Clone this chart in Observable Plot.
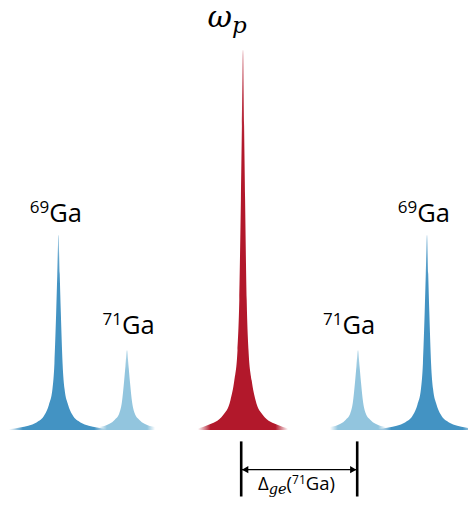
<!DOCTYPE html>
<html><head><meta charset="utf-8">
<script src="https://cdn.jsdelivr.net/npm/d3@7"></script>
<script src="https://cdn.jsdelivr.net/npm/@observablehq/plot@0.6"></script>
<style>html,body{margin:0;padding:0;background:#fff;} svg{display:block;}</style>
</head><body><div id="chart"></div>
<script>
// Peaks (detuning in arbitrary units, amplitude relative to the pump peak)
const peakNames   = ["69Ga", "71Ga", "ωp", "71Ga", "69Ga"];
const peakCenters = [-184.5, -116, 0, 115, 184];
const peakHeights = [0.513, 0.21, 1.0, 0.21, 0.513];
const peakWidths  = [1.1, 1.4, 1.0, 1.4, 1.1];
const peakSpans   = [50, 31, 45, 31, 50];
const peakColors  = ["#4393c3", "#92c5de", "#b2182b", "#92c5de", "#4393c3"];

// Line shape read from the central peak (offset from centre, relative level)
const profileOffsets = [0, 1.1, 2.1, 3.7, 5.5, 8.7, 12.5, 20, 35, 45];
const profileLevels  = [1, 0.8, 0.605, 0.342, 0.21, 0.13, 0.079, 0.039, 0.013, 0.004];

// Isotope labels
const isoLabelX    = [-187.7, -115, 105.7, 180.3];
const isoLabelY    = [0.558, 0.263, 0.263, 0.558];
const isoLabelMass = ["69", "71", "71", "69"];

// Pump label
const pumpLabelX = [-16.3];
const pumpLabelY = [1.071];

// Splitting bracket
const bracketX      = [-2.3, 113.7];
const bracketTop    = -0.03;
const bracketBottom = -0.175;
const arrowY        = -0.103;
const deltaLabelX   = [53];
const deltaLabelY   = [-0.147];

// Build area data for each peak
const peakData = peakCenters.map((c, i) => {
  const pts = [];
  const offs = [];
  for (let k = profileOffsets.length - 1; k > 0; k--) offs.push([-profileOffsets[k], profileLevels[k]]);
  for (let k = 0; k < profileOffsets.length; k++) offs.push([profileOffsets[k], profileLevels[k]]);
  for (const [o, l] of offs) {
    const dx = o * peakWidths[i];
    if (Math.abs(dx) <= peakSpans[i]) pts.push({x: c + dx, y: l * peakHeights[i], peak: i});
  }
  return pts;
});

const marks = [];
peakData.forEach((pts, i) => {
  marks.push(Plot.areaY(pts, {x: "x", y: "y", fill: `url(#grad${i})`, curve: "monotone-x"}));
  marks.push(Plot.areaY(pts, {x: "x", y: "y", fill: "url(#tip)", curve: "monotone-x"}));
});

marks.push(Plot.ruleX(bracketX, {y1: bracketTop, y2: bracketBottom, stroke: "#000", strokeWidth: 2.6}));
marks.push(Plot.ruleY([arrowY], {x1: bracketX[0], x2: bracketX[1], stroke: "#000", strokeWidth: 1.4}));
marks.push(Plot.dot([bracketX[0]], {x: d => d, y: arrowY, symbol: "triangle", r: 2.7, fill: "#000", stroke: null, rotate: -90, dx: 5}));
marks.push(Plot.dot([bracketX[1]], {x: d => d, y: arrowY, symbol: "triangle", r: 2.7, fill: "#000", stroke: null, rotate: 90, dx: -5}));

const isoData = isoLabelX.map((x, i) => ({x, y: isoLabelY[i], mass: isoLabelMass[i]}));
marks.push(Plot.text(isoData, {x: "x", y: "y", text: d => d.mass + "Ga", fontFamily: "Open Sans", fill: "#000", textAnchor: "middle"}));
marks.push(Plot.text(pumpLabelX.map((x, i) => ({x, y: pumpLabelY[i]})), {x: "x", y: "y", text: () => "ωp", fill: "#000", textAnchor: "middle"}));
marks.push(Plot.text(deltaLabelX.map((x, i) => ({x, y: deltaLabelY[i]})), {x: "x", y: "y", text: () => "Δge(71Ga)", fontFamily: "Open Sans", fill: "#000", textAnchor: "middle"}));

const svg = Plot.plot({
  width: 468,
  height: 507,
  marginLeft: 0,
  marginRight: 0,
  marginTop: 50,
  marginBottom: 77,
  x: {domain: [-243, 225], axis: null},
  y: {domain: [0, 1], axis: null},
  style: {background: "#fff", overflow: "hidden"},
  marks
});

// gradients: fade at the tails of each peak, lighter tip
const NS = "http://www.w3.org/2000/svg";
const defs = document.createElementNS(NS, "defs");
function gradient(id, vertical, stops) {
  const g = document.createElementNS(NS, "linearGradient");
  g.setAttribute("id", id);
  g.setAttribute("x1", "0"); g.setAttribute("y1", "0");
  g.setAttribute("x2", vertical ? "0" : "1"); g.setAttribute("y2", vertical ? "1" : "0");
  stops.forEach(([o, c, a]) => {
    const s = document.createElementNS(NS, "stop");
    s.setAttribute("offset", o);
    s.setAttribute("stop-color", c);
    s.setAttribute("stop-opacity", a);
    g.appendChild(s);
  });
  defs.appendChild(g);
}
peakColors.forEach((col, i) => gradient(`grad${i}`, false, [[0, col, 0], [0.14, col, 1], [0.86, col, 1], [1, col, 0]]));
gradient("tip", true, [[0, "#fff", 0.55], [0.12, "#fff", 0.15], [0.25, "#fff", 0]]);
svg.insertBefore(defs, svg.firstChild);

// text mark groups, in mark order: isotope, pump, delta
const textGroups = Array.from(svg.querySelectorAll("g[aria-label='text']"));
function richify(group, partsList) {
  if (!group) return;
  const texts = group.querySelectorAll("text");
  texts.forEach((t, i) => {
    t.removeAttribute("dy");
    while (t.firstChild) t.removeChild(t.firstChild);
    let cur = 0;
    for (const p of partsList[i]) {
      const ts = document.createElementNS(NS, "tspan");
      ts.textContent = p.t;
      ts.setAttribute("font-size", p.size);
      if (p.family) ts.setAttribute("font-family", p.family);
      if (p.italic) ts.setAttribute("font-style", "italic");
      const shift = p.shift || 0;
      if (shift !== cur) { ts.setAttribute("dy", shift - cur); cur = shift; }
      t.appendChild(ts);
    }
  });
}
richify(textGroups[0], isoLabelMass.map(m => [
  {t: m, size: 17, shift: -9},
  {t: "Ga", size: 25.5, shift: 0}
]));
richify(textGroups[1], [[
  {t: "ω", size: 30, family: "DejaVu Serif", italic: true},
  {t: "p", size: 23, family: "DejaVu Serif", italic: true, shift: 6}
]]);
richify(textGroups[2], [[
  {t: "Δ", size: 18.5},
  {t: "ge", size: 14.5, family: "DejaVu Serif", italic: true, shift: 4},
  {t: "(", size: 18.5, shift: 0},
  {t: "71", size: 12, shift: -6},
  {t: "Ga)", size: 18.5, shift: 0}
]]);

document.getElementById("chart").appendChild(svg);
</script>
</body></html>
